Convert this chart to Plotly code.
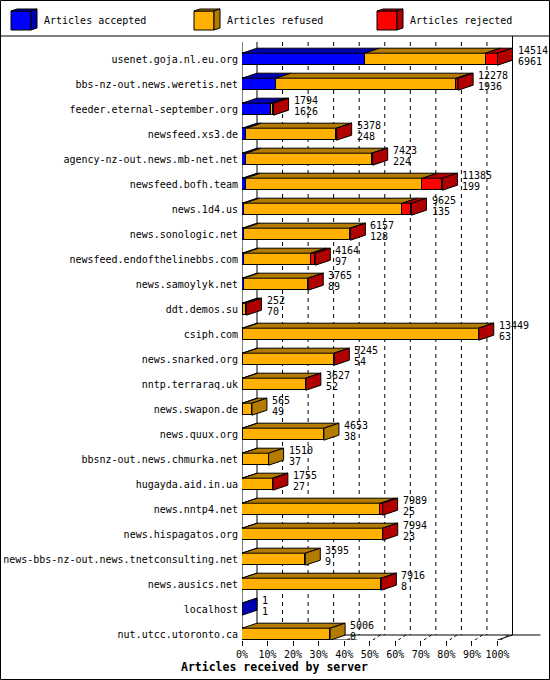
import plotly.graph_objects as go

# servers, top to bottom
servers = ['usenet.goja.nl.eu.org', 'bbs-nz-out.news.weretis.net', 'feeder.eternal-september.org',
           'newsfeed.xs3.de', 'agency-nz-out.news.mb-net.net', 'newsfeed.bofh.team', 'news.1d4.us',
           'news.sonologic.net', 'newsfeed.endofthelinebbs.com', 'news.samoylyk.net', 'ddt.demos.su',
           'csiph.com', 'news.snarked.org', 'nntp.terraraq.uk', 'news.swapon.de', 'news.quux.org',
           'bbsnz-out.news.chmurka.net', 'hugayda.aid.in.ua', 'news.nntp4.net', 'news.hispagatos.org',
           'news-bbs-nz-out.news.tnetconsulting.net', 'news.ausics.net', 'localhost', 'nut.utcc.utoronto.ca']
totals = [14514, 12278, 1794, 5378, 7423, 11385, 9625, 6157, 4164, 3765, 252, 13449,
          5245, 3627, 565, 4653, 1510, 1755, 7989, 7994, 3595, 7916, 1, 5006]
accepted = [6961, 1936, 1626, 248, 224, 199, 135, 128, 97, 89, 70, 63,
            54, 52, 49, 38, 37, 27, 25, 23, 9, 8, 1, 0]
rejected = [680, 100, 28, 12, 60, 1136, 511, 8, 245, 10, 12, 10,
            8, 6, 0, 0, 0, 5, 130, 6, 0, 6, 0, 0]
refused = [t - a - r for t, a, r in zip(totals, accepted, rejected)]

series = [('Articles accepted', accepted, '#0000ff', '#0000b0'),
          ('Articles refused', refused, '#ffb000', '#b37c00'),
          ('Articles rejected', rejected, '#ff0000', '#b00000')]
xticks = list(range(0, 101, 10))

W, H = 550, 680
L, R, T, B = 242, 8, 40, 40
PW, PH = W - L - R, H - T - B
PXPCT = 2.555                       # pixels per percent
XMAX = PW / PXPCT
ROW = 25.0                          # pixels per row
YMIN = -(59.2 - T) / ROW
YMAX = YMIN + PH / ROW
DX = 15 / PXPCT
DY = 5 / ROW
HW = 0.24                           # half bar height in rows
FONT = 'DejaVu Sans Mono'

def pct(v):
    return v / max(totals) * 100

def pxx(p):
    return (p - L) / PW

def pxy(p):
    return (H - B - p) / PH

rows = list(range(len(servers)))
fig = go.Figure()
for name, vals, col, dark in series:
    fig.add_bar(y=rows, x=[pct(v) for v in vals], orientation='h', name=name, width=2 * HW,
                marker=dict(color=col, line=dict(color='black', width=1)), showlegend=False,
                hoverinfo='skip')

shapes = []
line = dict(color='black', width=1)
dash = dict(color='black', width=1, dash='4px,4px')

# back wall and floor
for k in xticks[1:-1]:
    shapes.append(dict(type='line', xref='x', yref='y', x0=k + DX, x1=k + DX, y0=YMIN + 0.08, y1=YMAX - DY,
                       line=dash, layer='below'))
for k in xticks:
    shapes.append(dict(type='line', xref='x', yref='y', x0=k + 1.2, x1=k + DX * 0.7, y0=YMAX, y1=YMAX - DY,
                       line=dict(color='black', width=1, dash='3px,3px'), layer='below'))
shapes.append(dict(type='line', xref='x', yref='y', x0=DX, x1=DX, y0=YMIN + 0.08, y1=YMAX - DY, line=line, layer='below'))
shapes.append(dict(type='line', xref='x', yref='paper', x0=100 + DX, x1=100 + DX, y0=pxy(36), y1=DY * ROW / PH,
                   line=line, layer='below'))
shapes.append(dict(type='line', xref='x', yref='y', x0=DX, x1=XMAX - 0.6, y0=YMAX - DY, y1=YMAX - DY, line=line, layer='below'))
shapes.append(dict(type='line', xref='x', yref='y', x0=100, x1=100 + DX, y0=YMAX, y1=YMAX - DY, line=line, layer='below'))
shapes.append(dict(type='line', xref='x', yref='y', x0=0, x1=0, y0=YMIN + 0.08, y1=YMAX, line=line, layer='below'))
shapes.append(dict(type='line', xref='x', yref='y', x0=0, x1=45, y0=YMAX, y1=YMAX, line=line, layer='below'))

# 3d faces of the bars
for i in rows:
    c = 0.0
    last = None
    yt, yb = i - HW, i + HW
    for name, vals, col, dark in series:
        v = vals[i]
        if v <= 0:
            continue
        x0, x1 = c, c + pct(v)
        shapes.append(dict(type='path', xref='x', yref='y', fillcolor=dark, line=line, layer='above',
                           path=f'M{x0},{yt} L{x1},{yt} L{x1 + DX},{yt - DY} L{x0 + DX},{yt - DY} Z'))
        last = (x1, dark)
        c = x1
    if last:
        x1, dark = last
        shapes.append(dict(type='path', xref='x', yref='y', fillcolor=dark, line=line, layer='above',
                           path=f'M{x1},{yt} L{x1},{yb} L{x1 + DX},{yb - DY} L{x1 + DX},{yt - DY} Z'))

# value labels
ann = []
for i in rows:
    xe = pct(totals[i]) + DX + 1.2
    ann.append(dict(x=xe, y=i - 9 / ROW, text=str(totals[i]), xanchor='left', yanchor='middle',
                    showarrow=False, font=dict(family=FONT, size=10, color='black')))
    ann.append(dict(x=xe, y=i + 2 / ROW, text=str(accepted[i]), xanchor='left', yanchor='middle',
                    showarrow=False, font=dict(family=FONT, size=10, color='black')))

# legend, frame
legend_x = [11, 194, 377]
for (name, vals, col, dark), lx in zip(series, legend_x):
    x0, x1, y0, y1 = pxx(lx), pxx(lx + 20), pxy(11), pxy(30)
    ddx, ddy = 6 / PW, 2 / PH
    shapes.append(dict(type='rect', xref='paper', yref='paper', x0=x0, x1=x1, y0=y1, y1=y0,
                       fillcolor=col, line=line))
    shapes.append(dict(type='path', xref='paper', yref='paper', fillcolor=dark, line=line,
                       path=f'M{x0},{y0} L{x1},{y0} L{x1 + ddx},{y0 + ddy} L{x0 + ddx},{y0 + ddy} Z'))
    shapes.append(dict(type='path', xref='paper', yref='paper', fillcolor=dark, line=line,
                       path=f'M{x1},{y0} L{x1},{y1} L{x1 + ddx},{y1 + ddy} L{x1 + ddx},{y0 + ddy} Z'))
    ann.append(dict(xref='paper', yref='paper', x=pxx(lx + 31), y=pxy(21), text=name, xanchor='left',
                    yanchor='middle', showarrow=False, font=dict(family=FONT, size=10, color='black')))
shapes.append(dict(type='line', xref='paper', yref='paper', x0=pxx(0), x1=pxx(550), y0=pxy(36), y1=pxy(36), line=line))
shapes.append(dict(type='rect', xref='paper', yref='paper', x0=pxx(0.5), x1=pxx(549.5), y0=pxy(679.5), y1=pxy(0.5),
                   line=line))
ann.append(dict(xref='paper', yref='paper', x=pxx(274), y=pxy(667), text='<b>Articles received by server</b>',
                xanchor='center', yanchor='middle', showarrow=False, font=dict(family=FONT, size=11.5, color='black')))

fig.update_layout(
    width=W, height=H, margin=dict(l=L, r=R, t=T, b=B),
    barmode='stack', bargap=0, paper_bgcolor='white', plot_bgcolor='white',
    shapes=shapes, annotations=ann, showlegend=False,
    xaxis=dict(range=[0, XMAX], tickvals=xticks, ticktext=[f'{k}%' for k in xticks], automargin=False,
               ticks='outside', ticklen=5, tickcolor='black', showgrid=False, zeroline=False, showline=False,
               tickfont=dict(family=FONT, size=10, color='black')),
    yaxis=dict(range=[YMAX, YMIN], tickvals=rows, ticktext=servers, ticks='', showgrid=False, automargin=False,
               zeroline=False, showline=False, ticklabelstandoff=3,
               tickfont=dict(family=FONT, size=10, color='black')),
)
fig.write_html('out.html', config={'displayModeBar': False},
               post_script="document.body.style.margin='0';document.body.style.overflow='hidden';")
